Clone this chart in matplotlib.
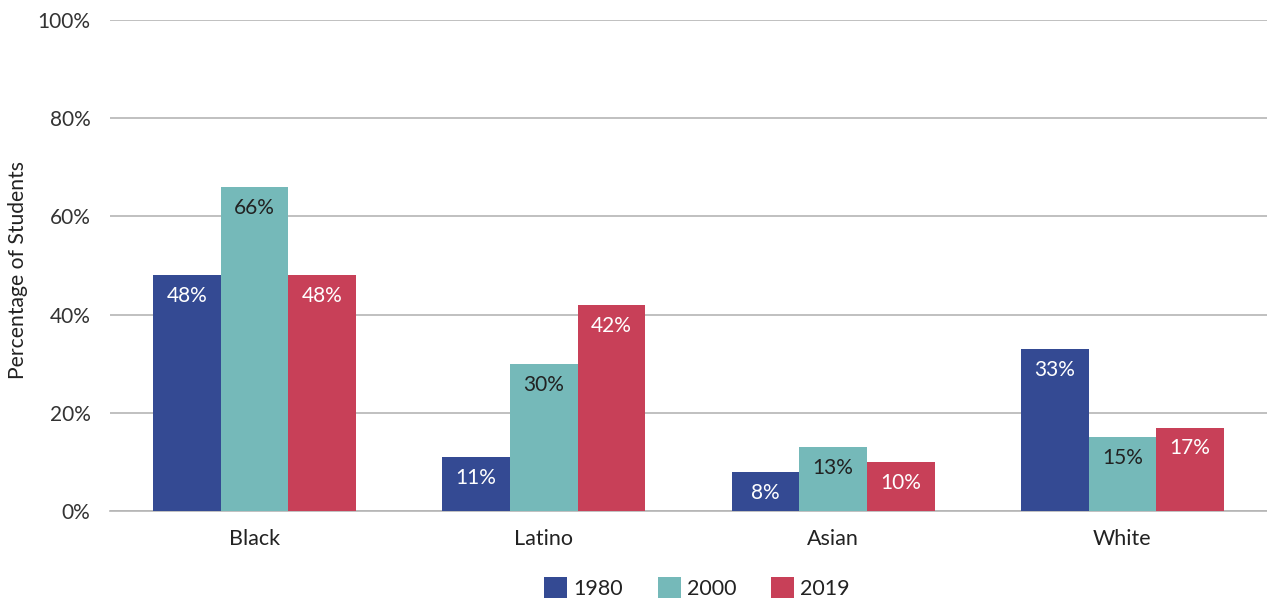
import matplotlib
matplotlib.use("Agg")
import matplotlib.pyplot as plt
import numpy as np

plt.rcParams['font.family'] = ['Lato', 'DejaVu Sans']

categories = ["Black", "Latino", "Asian", "White"]
years = ["1980", "2000", "2019"]
v1980 = [48, 11, 8, 33]
v2000 = [66, 30, 13, 15]
v2019 = [48, 42, 10, 17]
yticks = [0, 20, 40, 60, 80, 100]
ytick_labels = ["0%", "20%", "40%", "60%", "80%", "100%"]

colors = ["#344a93", "#75b9b9", "#c84058"]
text_colors = ["white", "#222222", "white"]

fig = plt.figure(figsize=(12.67, 6.01), dpi=100)
ax = fig.add_axes([110/1267, 1 - 511/601, 1157/1267, (511-20)/601])

x = np.arange(len(categories))
w = 0.234
series = [v1980, v2000, v2019]
for i, (vals, c, tc, lab) in enumerate(zip(series, colors, text_colors, years)):
    pos = x + (i - 1) * w
    ax.bar(pos, vals, width=w, color=c, label=lab, zorder=3)
    for xp, v in zip(pos, vals):
        ax.annotate(f"{v}%", (xp, v), xytext=(0, -15), textcoords="offset points",
                    ha="center", va="center", color=tc, fontsize=15, zorder=4)

ax.set_xlim(-0.5, len(categories) - 0.5)
ax.set_ylim(0, 100)
ax.set_yticks(yticks)
ax.set_yticklabels(ytick_labels, fontsize=15, color="#333333")
ax.set_xticks(x)
ax.set_xticklabels(categories, fontsize=15.5, color="#222222")
ax.tick_params(axis="both", length=0)
ax.tick_params(axis="y", pad=14)
ax.tick_params(axis="x", pad=13)
ax.yaxis.grid(True, color="#b5b5b5", linewidth=1.2, zorder=0)
ax.set_axisbelow(True)
for s in ["top", "right", "left"]:
    ax.spines[s].set_visible(False)
ax.spines["bottom"].set_color("#b5b5b5")
ax.spines["bottom"].set_linewidth(1.2)
ax.set_ylabel("Percentage of Students", fontsize=15.2, color="#222222")
ax.yaxis.set_label_coords(-82/1157, 0.49)

fig.legend(loc="center", bbox_to_anchor=(697/1267, 1 - 588/601), ncol=3, frameon=False,
           fontsize=15.5, handlelength=1.07, handleheight=1.07, handletextpad=0.3,
           columnspacing=1.6, labelcolor="#222222")

fig.savefig("out.png", dpi=100)
